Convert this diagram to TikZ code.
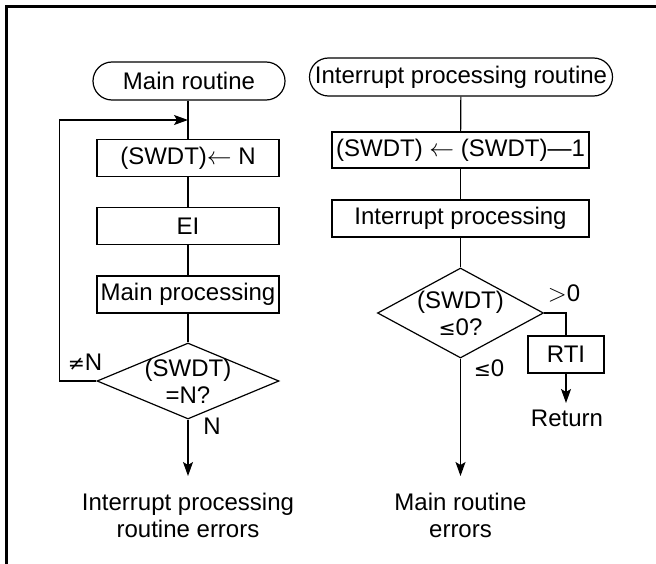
\documentclass[tikz,border=0pt]{standalone}
\usepackage{fontspec}
\setmainfont{Liberation Sans}
\newfontfamily\symf{DejaVu Sans}[Scale=0.85]
\usetikzlibrary{arrows.meta,shapes.geometric}
\newcommand{\lesym}{{\symf ≤}}
\newcommand{\nesym}{{\symf ≠}}
\begin{document}
\begin{tikzpicture}[x=1bp,y=-1bp,
  every node/.style={font=\fontsize{24bp}{27bp}\selectfont, inner sep=0pt},
  pill/.style={draw, line width=1.2bp, rounded corners=19bp, minimum height=38bp},
  box/.style={draw, line width=1.2bp, minimum height=37bp},
  dia/.style={draw, diamond, line width=1.2bp, inner sep=-20bp, align=center},
  conn/.style={line width=1.2bp},
  arr/.style={conn, -{Stealth[length=14bp,width=10bp,inset=3bp]}},
  lbl/.style={align=center}
]
\useasboundingbox (0,0) rectangle (656,564);
\fill[white] (0,0) rectangle (656,564);
\draw[line width=2.7bp] (6.5,564) -- (6.5,6.5) -- (656,6.5);

% main routine column
\node[pill, minimum width=192bp] (mp) at (189,81) {Main routine};
\node[box, minimum width=182bp] (b1) at (188,158) {(SWDT)$\leftarrow$ N};
\node[box, minimum width=182bp] (b2) at (188,226) {EI};
\node[box, minimum width=182bp] (b3) at (188,294.5) {Main processing};
\node[dia, minimum width=182bp, minimum height=76bp] (d1) at (188,381) {(SWDT)\\=N?};
\node (ne) at (85,362) {\nesym N};
\node (nn) at (212,426) {N};
\node[lbl] (e1) at (188,515) {Interrupt processing\\routine errors};
\coordinate (jn) at (188,120);
\coordinate (e1a) at (188,476);

% interrupt column
\node[pill, minimum width=303bp] (ip) at (461,77) {Interrupt processing routine};
\node[box, minimum width=257bp, minimum height=36bp] (c1) at (460.5,150) {(SWDT) $\leftarrow$ (SWDT)---1};
\node[box, minimum width=257bp] (c2) at (460.5,218.5) {Interrupt processing};
\node[dia, minimum width=166bp, minimum height=90bp] (d2) at (460.5,313) {(SWDT)\\\lesym 0?};
\node (gt) at (564,293) {$>$0};
\node (le) at (489,368) {\lesym 0};
\node[box, minimum width=76bp] (rti) at (566,354.5) {RTI};
\node (ret) at (567,418) {Return};
\node[lbl] (e2) at (460.5,515) {Main routine\\errors};
\coordinate (rta) at (566,403);
\coordinate (e2a) at (460.5,476);

% connectors
\draw[conn] (b1.north |- mp.south) -- (b1);
\draw[conn] (b1) -- (b2);
\draw[conn] (b2) -- (b3);
\draw[conn] (b3) -- (d1);
\draw[arr] (d1.west) -- ++(-37,0) |- (jn);
\draw[arr] (d1.south) -- (e1a);
\draw[conn] (ip) -- (c1);
\draw[conn] (c1) -- (c2);
\draw[conn] (c2) -- (d2);
\draw[conn] (d2.east) -| (rti.north);
\draw[arr] (rti.south) -- (rta);
\draw[arr] (d2.south) -- (e2a);
\end{tikzpicture}
\end{document}
